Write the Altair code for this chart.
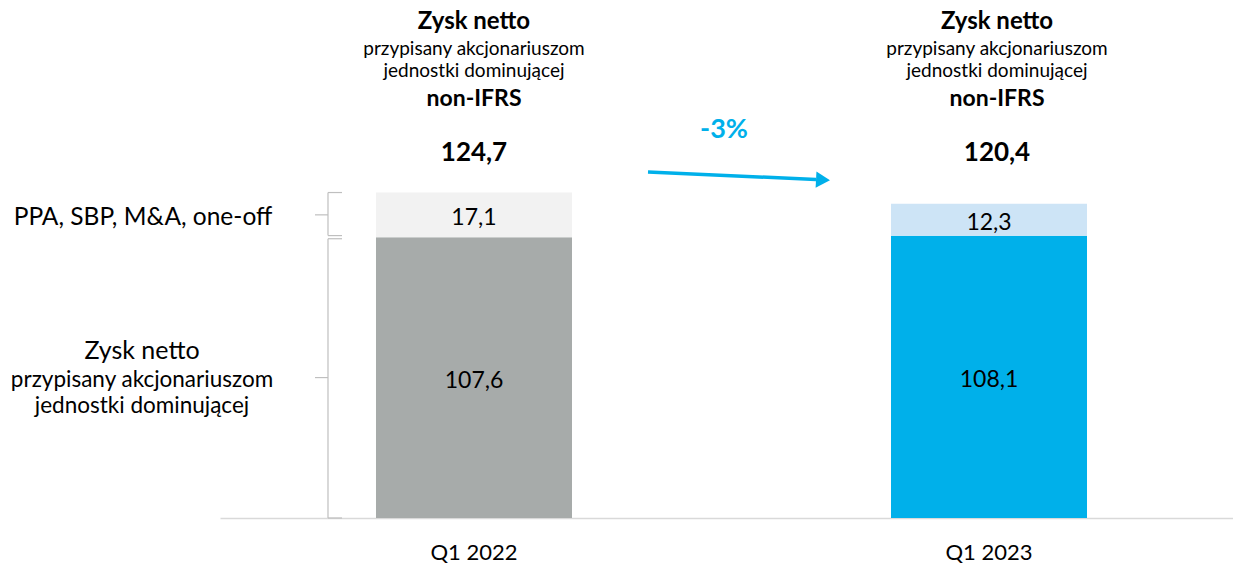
import altair as alt
import pandas as pd

categories = ["Q1 2022", "Q1 2023"]
base_values = [107.6, 108.1]
adj_values = [17.1, 12.3]
total_values = [124.7, 120.4]
change_text = "-3%"
header_lines = ["Zysk netto", "przypisany akcjonariuszom", "jednostki dominującej", "non-IFRS"]
left_adj_label = "PPA, SBP, M&A, one-off"
left_base_lines = ["Zysk netto", "przypisany akcjonariuszom", "jednostki dominującej"]


def fmt(v):
    return f"{v:.1f}".replace(".", ",")


rows = []
for i, c in enumerate(categories):
    b, a = base_values[i], adj_values[i]
    rows.append(dict(cat=c, key=f"base{i}", lo=0.0, hi=b, mid=b / 2, label=fmt(b)))
    rows.append(dict(cat=c, key=f"adj{i}", lo=b, hi=b + a, mid=b + a / 2, label=fmt(a)))
bars_df = pd.DataFrame(rows)
keys = list(bars_df["key"])
colors = ["#A7ABAA", "#F2F2F2", "#00B0EA", "#CDE4F6"]

FONT = "Lato"
TOP = 8
W, H = 1225, 510 - TOP
GRAY = "#BFBFBF"
BLUE = "#00B0EA"

xscale = alt.Scale(domain=categories, range=[212, 1235], paddingInner=0.6194, paddingOuter=0.3029)
yscale = alt.Scale(domain=[0, H / 2.61])
x_enc = alt.X(
    "cat:N", scale=xscale, sort=categories,
    axis=alt.Axis(title=None, labelAngle=0, ticks=False, domainColor="#D9D9D9", domainWidth=1.5,
                  labelFont=FONT, labelFontSize=22, labelColor="#000000", labelPadding=34,
                  labelBaseline="middle", grid=False),
)

bars = alt.Chart(bars_df).mark_bar().encode(
    x=x_enc,
    y=alt.Y("lo:Q", scale=yscale, axis=None),
    y2="hi:Q",
    color=alt.Color("key:N", scale=alt.Scale(domain=keys, range=colors), legend=None),
)
seg_labels = alt.Chart(bars_df).mark_text(font=FONT, fontSize=23, color="#000000", dy=3).encode(
    x=x_enc, y=alt.Y("mid:Q", scale=yscale, axis=None), text="label:N"
)

layers = [bars, seg_labels]

# headers above each bar (pixel offsets measured from the top of the plot)
line_y = [13.5 - TOP, 41 - TOP, 62.5 - TOP, 90.5 - TOP]
line_size = [24, 19, 19, 23]
line_weight = ["bold", "normal", "normal", "bold"]
cat_dx = [0, 8]
for i, c in enumerate(categories):
    df = pd.DataFrame({"cat": [c], "total": [fmt(total_values[i])]})
    for j, line in enumerate(header_lines):
        layers.append(
            alt.Chart(df).mark_text(text=line, font=FONT, fontSize=line_size[j], fontWeight=line_weight[j],
                                    color="#000000", dx=cat_dx[i], baseline="middle")
            .encode(x=x_enc, y=alt.value(line_y[j]))
        )
    layers.append(
        alt.Chart(df).mark_text(font=FONT, fontSize=26, fontWeight="bold", color="#000000",
                                dx=cat_dx[i], baseline="middle")
        .encode(x=x_enc, y=alt.value(144.5 - TOP), text="total:N")
    )

# change arrow
one = pd.DataFrame({"a": [0]})
layers.append(
    alt.Chart(one).mark_rule(color=BLUE, strokeWidth=3.5).encode(
        x=alt.value(640), x2=alt.value(808), y=alt.value(164 - TOP), y2=alt.value(171.5 - TOP)
    )
)
layers.append(
    alt.Chart(one).mark_point(shape="triangle-right", filled=True, size=260, color=BLUE, opacity=1, angle=3)
    .encode(x=alt.value(815), y=alt.value(172 - TOP))
)
layers.append(
    alt.Chart(one).mark_text(text=change_text, font=FONT, fontSize=27, fontWeight="bold", color=BLUE,
                             baseline="middle")
    .encode(x=alt.value(716), y=alt.value(122 - TOP))
)

# left braces and labels (first category segments)
gap = 0.6
first = bars_df[bars_df["cat"] == categories[0]].copy()
first["lo2"] = first["lo"] + [0.0, gap]
first["hi2"] = first["hi"] - [gap, 0.0]
bx, bend, btip = 320, 334, 307
layers += [
    alt.Chart(first).mark_rule(color=GRAY, strokeWidth=1.2).encode(
        x=alt.value(bx), y=alt.Y("lo2:Q", scale=yscale, axis=None), y2="hi2:Q"),
    alt.Chart(first).mark_rule(color=GRAY, strokeWidth=1.2).encode(
        x=alt.value(bx), x2=alt.value(bend), y=alt.Y("lo2:Q", scale=yscale, axis=None)),
    alt.Chart(first).mark_rule(color=GRAY, strokeWidth=1.2).encode(
        x=alt.value(bx), x2=alt.value(bend), y=alt.Y("hi2:Q", scale=yscale, axis=None)),
    alt.Chart(first).mark_rule(color=GRAY, strokeWidth=1.2).encode(
        x=alt.value(btip), x2=alt.value(bx), y=alt.Y("mid:Q", scale=yscale, axis=None)),
]

adj_row = first[first["key"].str.startswith("adj")]
base_row = first[first["key"].str.startswith("base")]
layers.append(
    alt.Chart(adj_row).mark_text(text=left_adj_label, font=FONT, fontSize=24.5, color="#000000",
                                 baseline="middle", dy=3)
    .encode(x=alt.value(135), y=alt.Y("mid:Q", scale=yscale, axis=None))
)
left_dy = [-27, 2, 28]
left_size = [25, 22.5, 22.5]
for j, line in enumerate(left_base_lines):
    layers.append(
        alt.Chart(base_row).mark_text(text=line, font=FONT, fontSize=left_size[j], color="#000000",
                                      baseline="middle", dy=left_dy[j])
        .encode(x=alt.value(134), y=alt.Y("mid:Q", scale=yscale, axis=None))
    )

chart = alt.layer(*layers).properties(
    width=W, height=H,
    padding={"left": 0, "top": TOP, "right": 0, "bottom": 46},
    autosize=alt.AutoSizeParams(type="none"),
).configure(background="white").configure_view(stroke=None)

chart.save("out.html", embed_options={"renderer": "svg", "actions": False})
